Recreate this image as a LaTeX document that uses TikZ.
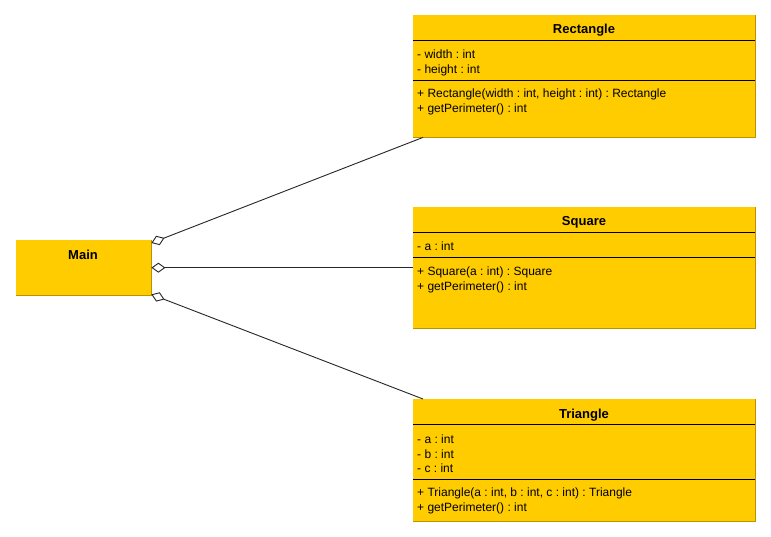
\documentclass[tikz,border=0pt]{standalone}
\usepackage{fontspec}
\setmainfont{Liberation Sans}
\usetikzlibrary{arrows.meta}
\definecolor{umlyellow}{HTML}{FFCC00}
\definecolor{umledge}{HTML}{B89400}
\frenchspacing
\begin{document}
\begin{tikzpicture}[x=1pt,y=-1pt,
  classbox/.style={fill=umlyellow, draw=none, inner sep=0pt, anchor=north west},
  ttl/.style={font=\fontsize{13}{15}\selectfont\bfseries, inner sep=0pt, anchor=base},
  mem/.style={font=\fontsize{12}{14}\selectfont, inner sep=0pt, anchor=base west},
  sep/.style={line width=1pt, black},
  edge/.style={line width=1pt, umledge},
  assoc/.style={line width=0.9pt, black!85, -{Diamond[fill=white, length=14pt, width=10pt]}}]
\useasboundingbox (0,0) rectangle (771,537);
\fill[white] (0,0) rectangle (771,537);

% Main
\node[classbox, minimum width=135pt, minimum height=55pt] (main) at (16,240) {};
\draw[edge] (main.north east) -- (main.south east) -- (main.south west);
\node[ttl] (mainT) at (83,260) {Main};

% Rectangle
\node[classbox, minimum width=342pt, minimum height=122pt] (rect) at (413,15) {};
\draw[edge] (rect.north east) -- (rect.south east) -- (rect.south west);
\draw[sep] (413,40.5) -- (755,40.5);
\draw[sep] (413,80.5) -- (755,80.5);
\node[ttl] (rectT) at (584,33.5) {Rectangle};
\node[mem] (rectA1) at (417,58.5) {- width : int};
\node[mem] (rectA2) at (417,73.5) {- height : int};
\node[mem] (rectM1) at (417,98) {+ Rectangle(width : int, height : int) : Rectangle};
\node[mem] (rectM2) at (417,113) {+ getPerimeter() : int};

% Square
\node[classbox, minimum width=342pt, minimum height=121pt] (sq) at (413,207) {};
\draw[edge] (sq.north east) -- (sq.south east) -- (sq.south west);
\draw[sep] (413,232.5) -- (755,232.5);
\draw[sep] (413,257.5) -- (755,257.5);
\node[ttl] (sqT) at (584,225.5) {Square};
\node[mem] (sqA1) at (417,250.5) {- a : int};
\node[mem] (sqM1) at (417,275.5) {+ Square(a : int) : Square};
\node[mem] (sqM2) at (417,290.5) {+ getPerimeter() : int};

% Triangle
\node[classbox, minimum width=342pt, minimum height=122pt] (tri) at (413,399) {};
\draw[edge] (tri.north east) -- (tri.south east) -- (tri.south west);
\draw[sep] (413,424.5) -- (755,424.5);
\draw[sep] (413,479.5) -- (755,479.5);
\node[ttl] (triT) at (584,418) {Triangle};
\node[mem] (triA1) at (417,443) {- a : int};
\node[mem] (triA2) at (417,458) {- b : int};
\node[mem] (triA3) at (417,472.5) {- c : int};
\node[mem] (triM1) at (417,496.5) {+ Triangle(a : int, b : int, c : int) : Triangle};
\node[mem] (triM2) at (417,511.5) {+ getPerimeter() : int};

% associations
\draw[assoc] ([xshift=10pt]rect.south west) -- ([yshift=-3pt]main.north east);
\draw[assoc] (sq.west |- main.east) -- (main.east);
\draw[assoc] ([xshift=10pt]tri.north west) -- ([yshift=1pt]main.south east);
\end{tikzpicture}
\end{document}
